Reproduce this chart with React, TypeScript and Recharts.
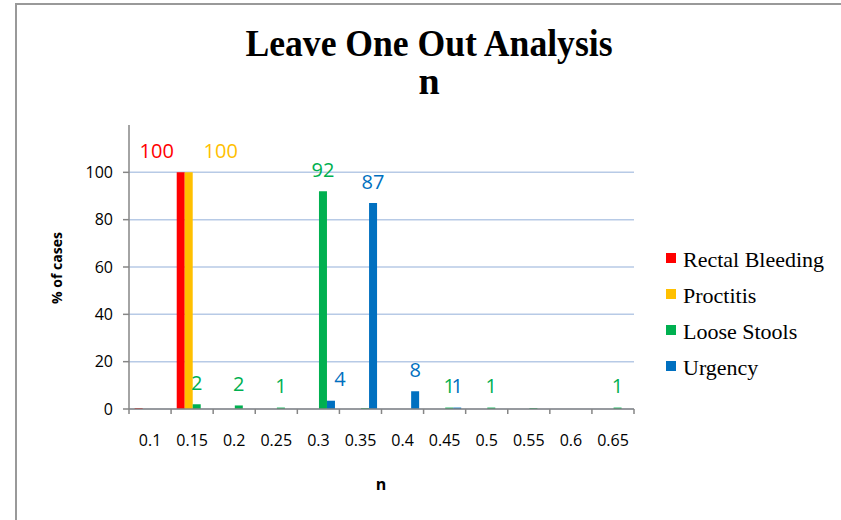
import React from 'react'
import { BarChart, Bar, XAxis, YAxis, CartesianGrid, LabelList } from 'recharts'

// n values (x categories)
const categories = ['0.1', '0.15', '0.2', '0.25', '0.3', '0.35', '0.4', '0.45', '0.5', '0.55', '0.6', '0.65']

// % of cases per series
const rectalBleeding = [0.4, 100, 0, 0, 0, 0, 0, 0, 0, 0, 0, 0]
const proctitis = [0, 100, 0, 0, 0, 0, 0, 0, 0, 0, 0, 0]
const looseStools = [0, 2, 1.5, 0.6, 92, 0.4, 0, 0.6, 0.6, 0.4, 0, 0.6]
const urgency = [0, 0, 0, 0, 3.5, 87, 7.5, 0.6, 0, 0, 0, 0]

const yTicks = [0, 20, 40, 60, 80, 100]

const series = [
  { key: 'rectalBleeding', name: 'Rectal Bleeding', color: '#FF0000', values: rectalBleeding },
  { key: 'proctitis', name: 'Proctitis', color: '#FFC000', values: proctitis },
  { key: 'looseStools', name: 'Loose Stools', color: '#00B050', values: looseStools },
  { key: 'urgency', name: 'Urgency', color: '#0070C0', values: urgency },
]

const data = categories.map((cat, i) => {
  const row: Record<string, string | number> = { cat }
  series.forEach((s) => { row[s.key] = s.values[i] })
  return row
})

// labels that were dragged sideways in the original (by category)
const labelShift: Record<string, Record<string, number>> = {
  rectalBleeding: { '0.15': -24 },
  proctitis: { '0.15': 32 },
  urgency: { '0.3': 9 },
}

const W = 841
const H = 520
const PLOT_LEFT = 129
const PLOT_RIGHT = 634
const PLOT_TOP = 125
const PLOT_BOTTOM = 409
const Y_AXIS_W = 60
const X_AXIS_H = 40
const BAND = (PLOT_RIGHT - PLOT_LEFT) / categories.length
const AXIS = '#868686'
const SANS = '"Open Sans", Calibri, sans-serif'
const SERIF = '"Liberation Serif", "Times New Roman", serif'

function XTick(props: any) {
  const { x, y, payload, index } = props
  const last = index === categories.length - 1
  return (
    <g>
      <line x1={x - BAND / 2} x2={x - BAND / 2} y1={y} y2={y + 5} stroke={AXIS} strokeWidth={1.5} />
      {last && <line x1={x + BAND / 2} x2={x + BAND / 2} y1={y} y2={y + 5} stroke={AXIS} strokeWidth={1.5} />}
      <text x={x} y={y + 31} textAnchor="middle" dominantBaseline="central" fontSize={16} fill="#000" fontFamily={SANS}>
        {payload.value}
      </text>
    </g>
  )
}

function makeLabel(key: string, color: string) {
  return (props: any) => {
    const { x, y, width, value } = props
    const [cat, raw] = String(value).split('|')
    const shown = Math.round(Number(raw))
    if (!shown) return null
    const dx = labelShift[key]?.[cat] ?? 0
    return (
      <text x={x + width / 2 + dx} y={y - 22} textAnchor="middle" dominantBaseline="central" fontSize={20} fill={color} fontFamily={SANS}>
        {shown}
      </text>
    )
  }
}

export default function App() {
  return (
    <div style={{ position: 'fixed', left: 0, top: 0, width: W, height: H, background: '#fff', overflow: 'hidden' }}>
      <div style={{ position: 'absolute', left: 15, top: 3, right: -10, bottom: -10, borderLeft: '2px solid #999', borderTop: '2px solid #999' }} />
      <BarChart
        width={W}
        height={H}
        data={data}
        margin={{ top: PLOT_TOP, right: W - PLOT_RIGHT, bottom: H - PLOT_BOTTOM - X_AXIS_H, left: PLOT_LEFT - Y_AXIS_W }}
        barCategoryGap="13.4%"
        barGap={0}
        style={{ position: 'absolute', left: 0, top: 0 }}
      >
        <CartesianGrid vertical={false} horizontalValues={yTicks} stroke="#b7cae6" strokeWidth={1.5} />
        <XAxis
          dataKey="cat"
          height={X_AXIS_H}
          tickLine={false}
          tickSize={0}
          tickMargin={0}
          axisLine={{ stroke: AXIS, strokeWidth: 1.5 }}
          tick={(p: any) => <XTick {...p} />}
          interval={0}
        />
        <YAxis
          width={Y_AXIS_W}
          domain={[0, 120]}
          ticks={yTicks}
          tickSize={6}
          tickMargin={10}
          tickLine={{ stroke: AXIS, strokeWidth: 1.5 }}
          axisLine={{ stroke: AXIS, strokeWidth: 1.5 }}
          tick={{ fontSize: 16, fill: '#000', fontFamily: SANS }}
        />
        {series.map((s) => (
          <Bar key={s.key} dataKey={s.key} name={s.name} fill={s.color} isAnimationActive={false}>
            <LabelList
              dataKey={(row: any) => `${row.cat}|${row[s.key]}`}
              content={makeLabel(s.key, s.color)}
            />
          </Bar>
        ))}
      </BarChart>
      <svg width={W} height={H} style={{ position: 'absolute', left: 0, top: 0, pointerEvents: 'none' }}>
        <text x={429} y={56} textAnchor="middle" fontFamily={SERIF} fontWeight="bold" fontSize={38} textLength={367} lengthAdjust="spacingAndGlyphs" fill="#000">
          Leave One Out Analysis
        </text>
        <text x={429} y={94} textAnchor="middle" fontFamily={SERIF} fontWeight="bold" fontSize={38} fill="#000">
          n
        </text>
        <text x={381} y={484} textAnchor="middle" dominantBaseline="central" fontFamily={SANS} fontWeight="bold" fontSize={16} fill="#000">
          n
        </text>
        <text
          x={56}
          y={268}
          transform="rotate(-90 56 268)"
          textAnchor="middle"
          dominantBaseline="central"
          fontFamily={SANS}
          fontWeight="bold"
          fontSize={14}
          fill="#000"
        >
          % of cases
        </text>
        {series.map((s, i) => (
          <g key={s.key}>
            <rect x={666} y={253 + i * 36} width={10} height={10} fill={s.color} />
            <text x={683} y={267 + i * 36} fontFamily={SERIF} fontSize={22} fill="#000">
              {s.name}
            </text>
          </g>
        ))}
      </svg>
    </div>
  )
}
